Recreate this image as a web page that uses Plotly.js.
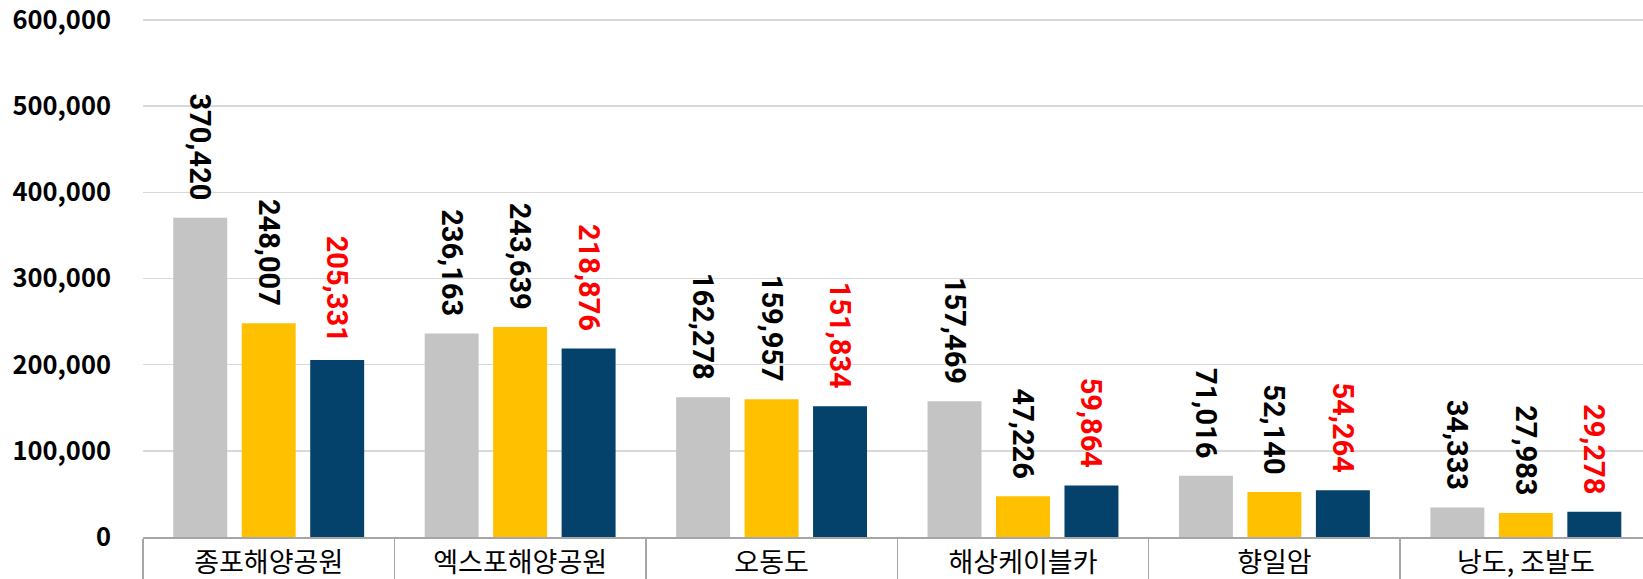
<!DOCTYPE html>
<html><head><meta charset="utf-8">
<script src="https://cdn.plot.ly/plotly-3.0.1.min.js"></script>
<style>html,body{margin:0;padding:0;background:#fff;}#chart{width:1643px;height:579px;}</style>
</head><body><div id="chart"></div>
<script>
const categories = ['종포해양공원','엑스포해양공원','오동도','해상케이블카','향일암','낭도, 조발도'];
const series1 = [370420, 236163, 162278, 157469, 71016, 34333];
const series2 = [248007, 243639, 159957, 47226, 52140, 27983];
const series3 = [205331, 218876, 151834, 59864, 54264, 29278];
const seriesNames = ['계열1','계열2','계열3'];
const yTicks = [0, 100000, 200000, 300000, 400000, 500000, 600000];

const colors = ['#C4C4C4', '#FFC000', '#05426B'];
const labelColors = ['#000000', '#000000', '#FF0000'];
const all = [series1, series2, series3];

const traces = all.map((vals, i) => ({
  type: 'bar',
  name: seriesNames[i],
  x: categories,
  y: vals,
  marker: {color: colors[i]},
  text: vals.map(v => v.toLocaleString('en-US') + '\u00a0\u00a0'),
  texttemplate: '%{text}',
  textposition: 'outside',
  textangle: 90,
  cliponaxis: false,
  constraintext: 'none',
  textfont: {family: 'Roboto, sans-serif', size: 29, color: labelColors[i], weight: 'bold'},
  hoverinfo: 'skip'
}));

const layout = {
  width: 1643, height: 579,
  margin: {l: 143, r: 0, t: 17, b: 42},
  paper_bgcolor: '#fff', plot_bgcolor: '#fff',
  barmode: 'group',
  bargap: 0.183,
  bargroupgap: 0.212,
  showlegend: false,
  xaxis: {
    type: 'category',
    range: [-0.5, 5.466],
    showgrid: false,
    showline: true, linecolor: '#A6A6A6', linewidth: 2,
    ticks: 'outside', tickson: 'boundaries', ticklen: 42, tickcolor: '#A6A6A6', tickwidth: 1.5,
    ticklabelstandoff: 1,
    tickfont: {family: '"Noto Sans CJK KR", sans-serif', size: 27, color: '#000'}
  },
  yaxis: {
    range: [0, 603500],
    tickvals: yTicks,
    tickformat: ',',
    ticklabeloverflow: 'allow',
    showgrid: true, gridcolor: '#D9D9D9', gridwidth: 1.5,
    zeroline: false, showline: false,
    ticks: '',
    ticklabelstandoff: 31,
    tickfont: {family: '"Noto Sans CJK KR", sans-serif', size: 25.5, color: '#000', weight: 'bold'}
  }
};

Plotly.newPlot('chart', traces, layout, {displayModeBar: false, staticPlot: true});
</script>
</body></html>
